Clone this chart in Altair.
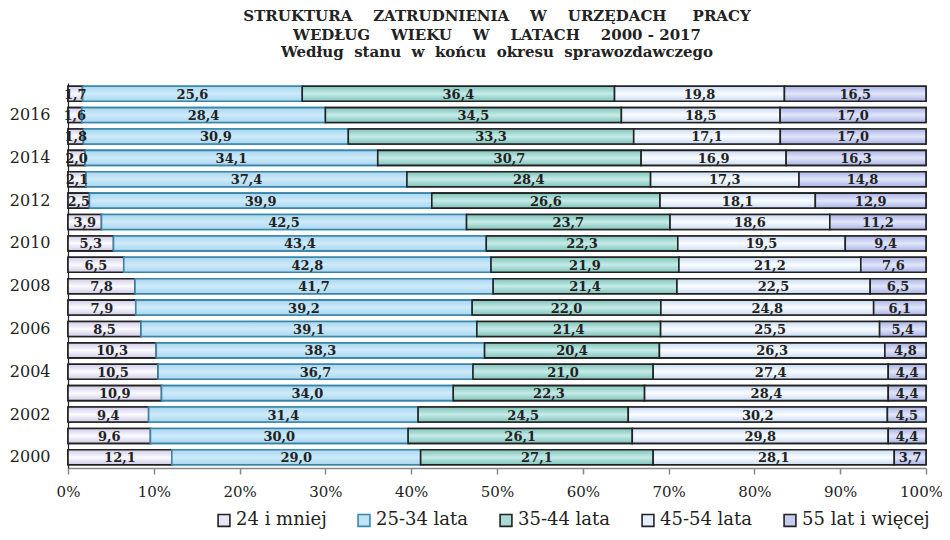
import altair as alt
import pandas as pd

years = [2017, 2016, 2015, 2014, 2013, 2012, 2011, 2010, 2009,
         2008, 2007, 2006, 2005, 2004, 2003, 2002, 2001, 2000]
categories = ["24 i mniej", "25-34 lata", "35-44 lata", "45-54 lata", "55 lat i więcej"]
v_24 = [1.7, 1.6, 1.8, 2.0, 2.1, 2.5, 3.9, 5.3, 6.5, 7.8, 7.9, 8.5, 10.3, 10.5, 10.9, 9.4, 9.6, 12.1]
v_25_34 = [25.6, 28.4, 30.9, 34.1, 37.4, 39.9, 42.5, 43.4, 42.8, 41.7, 39.2, 39.1, 38.3, 36.7, 34.0, 31.4, 30.0, 29.0]
v_35_44 = [36.4, 34.5, 33.3, 30.7, 28.4, 26.6, 23.7, 22.3, 21.9, 21.4, 22.0, 21.4, 20.4, 21.0, 22.3, 24.5, 26.1, 27.1]
v_45_54 = [19.8, 18.5, 17.1, 16.9, 17.3, 18.1, 18.6, 19.5, 21.2, 22.5, 24.8, 25.5, 26.3, 27.4, 28.4, 30.2, 29.8, 28.1]
v_55 = [16.5, 17.0, 17.0, 16.3, 14.8, 12.9, 11.2, 9.4, 7.6, 6.5, 6.1, 5.4, 4.8, 4.4, 4.4, 4.5, 4.4, 3.7]

fills = ["#e8e6f5", "#bfe3f5", "#a8dbd6", "#e5eefb", "#c6ccef"]
edge_fills = ["#cfcbe8", "#a9d6ee", "#7fc3bb", "#c9dbf3", "#a9b3e6"]
mid_fills = ["#fbfbff", "#cdeafa", "#c6ebe7", "#fbfdff", "#e2e6fa"]
strokes = ["#222222", "#3a86ab", "#222222", "#222222", "#222222"]

series = [v_24, v_25_34, v_35_44, v_45_54, v_55]
rows = []
for ci, (cat, vals) in enumerate(zip(categories, series)):
    for y, v in zip(years, vals):
        rows.append({"year": str(y), "cat": cat, "order": ci, "value": v,
                     "label": f"{v:.1f}".replace(".", ",")})
df = pd.DataFrame(rows)

font = "DejaVu Serif"
year_order = [str(y) for y in years]
NB = "\u00a0"

base = alt.Chart(df).transform_stack(
    stack="value", groupby=["year"], as_=["x0", "x1"], offset="normalize",
    sort=[alt.SortField("order", order="ascending")]
).transform_calculate(mid="(datum.x0 + datum.x1) / 2")

ycode = alt.Y("year:N", sort=year_order, title=None,
              scale=alt.Scale(paddingInner=0.3, paddingOuter=0.15),
              axis=alt.Axis(labelExpr="parseInt(datum.value) % 2 == 0 ? datum.value : ''",
                            labelFont=font, labelFontSize=16, labelColor="#222",
                            ticks=False, labelPadding=18, domainColor="#222",
                            domainWidth=1.2))

xcode = alt.X("x0:Q", title=None,
              scale=alt.Scale(domain=[0, 1], nice=False),
              axis=alt.Axis(format=".0%", values=[i / 10 for i in range(11)],
                            labelFont=font, labelFontSize=15, labelColor="#222",
                            labelOffset={"condition": {"test": "datum.value == 1", "value": -5},
                                         "value": 0},
                            tickColor="#888", tickSize=6, tickWidth=1.5,
                            domainColor="#888", domainWidth=1.5, grid=False,
                            labelPadding=10, labelFlush=False))

bars = base.mark_bar(strokeWidth=1.6).encode(
    x=xcode,
    x2="x1:Q",
    y=ycode,
    fill=alt.Fill("cat:N", sort=categories, title=None,
                  scale=alt.Scale(domain=categories, range=fills)),
    stroke=alt.Stroke("cat:N", sort=categories, title=None,
                      scale=alt.Scale(domain=categories, range=strokes)),
)

grad_layers = []
for ci, cat in enumerate(categories):
    grad = alt.LinearGradient(
        gradient="linear", x1=0, x2=0, y1=0, y2=1,
        stops=[alt.GradientStop(color=edge_fills[ci], offset=0),
               alt.GradientStop(color=mid_fills[ci], offset=0.5),
               alt.GradientStop(color=edge_fills[ci], offset=1)])
    grad_layers.append(
        base.transform_filter(alt.datum.cat == cat).mark_bar(
            strokeWidth=1.6, stroke=strokes[ci]).encode(
            x="x0:Q", x2="x1:Q", y=alt.Y("year:N", sort=year_order),
            fill=alt.value(grad))
    )

texts = base.mark_text(font=font, fontWeight="bold", fontSize=13, color="#222",
                       baseline="middle", dy=1).encode(
    x="mid:Q",
    y=alt.Y("year:N", sort=year_order),
    text="label:N",
)

g = NB * 4
sub_gap = NB * 2
chart = alt.layer(bars, *grad_layers, texts).properties(
    width=858, height=385,
    padding={"left": 60, "top": 75, "right": 16, "bottom": 70},
    autosize=alt.AutoSizeParams(type="none"),
    title=alt.TitleParams(
        text=[f"STRUKTURA{g}ZATRUDNIENIA{g}W{g}URZĘDACH{NB*5}PRACY",
              f"WEDŁUG{g}WIEKU{g}W{g}LATACH{g}2000 - 2017"],
        subtitle=sub_gap.join(["Według", "stanu", "w", "końcu", "okresu", "sprawozdawczego"]),
        font=font, fontSize=15, fontWeight="bold", color="#222",
        subtitleFont=font, subtitleFontSize=15, subtitleFontWeight="bold",
        subtitleColor="#222", lineHeight=19, subtitleLineHeight=18,
        subtitlePadding=2, anchor="middle", frame="group", offset=23),
).configure_view(stroke=None).configure_legend(
    orient="none", legendX=147, legendY=428, direction="horizontal",
    labelFont=font, labelFontSize=18,
    labelColor="#222", symbolType="square", symbolSize=140, symbolStrokeWidth=1.6,
    columnPadding=27, labelOffset=3, padding=0
)

chart.save("out.html", embed_options={"renderer": "svg", "actions": False})
